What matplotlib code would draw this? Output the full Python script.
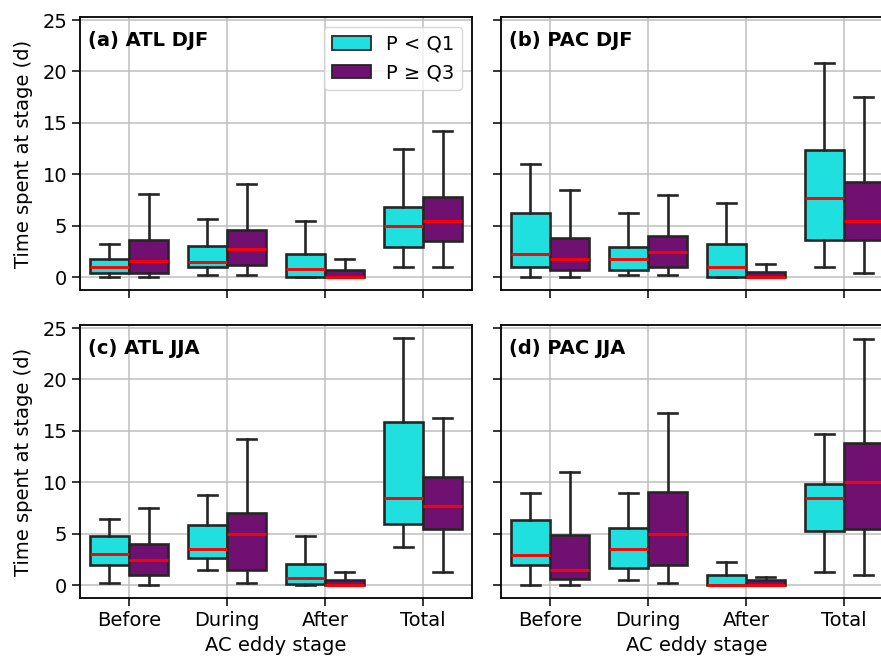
import matplotlib
matplotlib.use("Agg")
import matplotlib.pyplot as plt
from matplotlib.patches import Patch
import numpy as np

stages = ["Before", "During", "After", "Total"]
panel_titles = ["(a) ATL DJF", "(b) PAC DJF", "(c) ATL JJA", "(d) PAC JJA"]
group_labels = ["P < Q1", "P \u2265 Q3"]

# box stats per panel: [whislo, q1, med, q3, whishi] for Before, During, After, Total
atl_djf_low = [[0.0, 0.39, 1.0, 1.8, 3.19], [0.23, 0.97, 1.48, 3.0, 5.7],
               [0.0, 0.0, 0.77, 2.26, 5.48], [1.0, 2.97, 4.97, 6.8, 12.5]]
atl_djf_high = [[0.0, 0.39, 1.58, 3.6, 8.06], [0.23, 1.16, 2.77, 4.58, 9.03],
                [0.0, 0.0, 0.0, 0.71, 1.77], [1.0, 3.48, 5.5, 7.8, 14.26]]
pac_djf_low = [[0.0, 1.0, 2.23, 6.26, 11.0], [0.23, 0.71, 1.74, 2.97, 6.23],
               [0.0, 0.0, 1.0, 3.19, 7.23], [1.0, 3.65, 7.74, 12.4, 20.8]]
pac_djf_high = [[0.0, 0.71, 1.74, 3.84, 8.45], [0.23, 0.97, 2.45, 4.03, 8.0],
                [0.0, 0.0, 0.0, 0.48, 1.23], [0.45, 3.65, 5.48, 9.23, 17.5]]
atl_jja_low = [[0.22, 1.96, 2.99, 4.82, 6.46], [1.51, 2.6, 3.5, 5.88, 8.77],
               [0.0, 0.1, 0.74, 2.09, 4.76], [3.73, 5.94, 8.45, 15.84, 24.0]]
atl_jja_high = [[0.0, 1.0, 2.47, 4.02, 7.49], [0.22, 1.48, 4.98, 7.04, 14.24],
                [0.0, 0.0, 0.0, 0.51, 1.25], [1.25, 5.46, 7.71, 10.48, 16.23]]
pac_jja_low = [[0.0, 1.96, 2.96, 6.36, 9.0], [0.48, 1.7, 3.5, 5.59, 9.0],
               [0.0, 0.0, 0.0, 1.0, 2.22], [1.25, 5.3, 8.45, 9.86, 14.7]]
pac_jja_high = [[0.0, 0.58, 1.51, 4.92, 10.96], [0.22, 1.99, 4.98, 9.09, 16.7],
                [0.0, 0.0, 0.0, 0.51, 0.77], [1.0, 5.49, 9.99, 13.85, 23.97]]

panels = [(atl_djf_low, atl_djf_high), (pac_djf_low, pac_djf_high),
          (atl_jja_low, atl_jja_high), (pac_jja_low, pac_jja_high)]

colors = ["#20dfdf", "#701070"]
edge = "#262626"

plt.rcParams["font.size"] = 14
plt.rcParams["axes.linewidth"] = 1.3
plt.rcParams["xtick.major.size"] = 5.5
plt.rcParams["ytick.major.size"] = 5.5
plt.rcParams["xtick.major.width"] = 1.1
plt.rcParams["ytick.major.width"] = 1.1

fig = plt.figure(figsize=(8.81, 6.59), dpi=100)
w, h = 392 / 881, 273 / 659
lefts = [80 / 881, 501 / 881]
bottoms = [1 - 290 / 659, 1 - 598 / 659]

axes = []
for k in range(4):
    r, c = divmod(k, 2)
    ax = fig.add_axes([lefts[c], bottoms[r], w, h])
    axes.append(ax)
    for g, data in enumerate(panels[k]):
        stats = [dict(whislo=s[0], q1=s[1], med=s[2], q3=s[3], whishi=s[4], fliers=[])
                 for s in data]
        pos = np.arange(len(stages)) + (g - 0.5) * 0.4
        ax.bxp(stats, positions=pos, widths=0.4, capwidths=0.2, patch_artist=True,
               showfliers=False, manage_ticks=False,
               boxprops=dict(facecolor=colors[g], edgecolor=edge, linewidth=1.9),
               whiskerprops=dict(color=edge, linewidth=1.9),
               capprops=dict(color=edge, linewidth=1.9),
               medianprops=dict(color="red", linewidth=2.1))
    ax.set_xlim(-0.5, 3.5)
    ax.set_ylim(-1.25, 25.3)
    ax.set_xticks(range(len(stages)))
    ax.set_yticks([0, 5, 10, 15, 20, 25])
    ax.grid(True, color="#bebebe", linewidth=1.1)
    ax.set_axisbelow(True)
    ax.text(0.02, 0.95, panel_titles[k], transform=ax.transAxes, fontweight="bold",
            va="top", ha="left")
    if r == 1:
        ax.set_xticklabels(stages)
        ax.set_xlabel("AC eddy stage", labelpad=5)
    else:
        ax.set_xticklabels([])
    if c == 0:
        ax.set_ylabel("Time spent at stage (d)", labelpad=7)
    else:
        ax.set_yticklabels([])

handles = [Patch(facecolor=colors[g], edgecolor=edge, linewidth=1.3, label=group_labels[g])
           for g in range(2)]
axes[0].legend(handles=handles, loc="upper right")

fig.savefig("out.png", dpi=100)
